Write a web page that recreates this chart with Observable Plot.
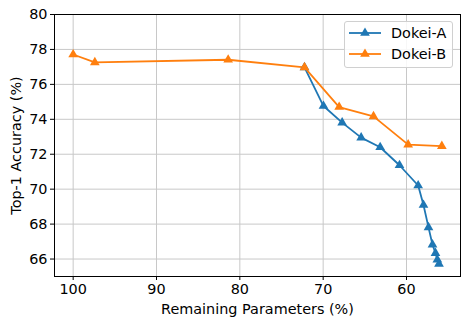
<!DOCTYPE html>
<html><head><meta charset="utf-8">
<script src="https://cdn.jsdelivr.net/npm/d3@7"></script>
<script src="https://cdn.jsdelivr.net/npm/@observablehq/plot@0.6"></script>
<style>
body{margin:0;background:#fff}
#wrap{position:relative;width:473px;height:327px;font-family:"DejaVu Sans",sans-serif}
#legend{position:absolute;left:344px;top:21px;width:109px;height:47px;border:1px solid #d0d0d0;border-radius:3px;background:rgba(255,255,255,0.85);box-sizing:border-box}
.row{position:absolute;left:0;height:20px;display:flex;align-items:center;font-size:14.4px;color:#000}
</style>
</head><body><div id="wrap"><div id="legend"></div></div>
<script>
const seriesNames = ["Dokei-A", "Dokei-B"];
const seriesColors = ["#1f77b4", "#ff7f0e"];
const paramsA = [72.24, 69.96, 67.72, 65.44, 63.16, 60.84, 58.6, 57.96, 57.36, 56.88, 56.52, 56.3, 56.1];
const accA    = [76.97, 74.76, 73.81, 72.95, 72.40, 71.37, 70.21, 69.09, 67.81, 66.82, 66.34, 65.96, 65.72];
const paramsB = [100, 97.4, 81.4, 72.24, 68.08, 63.96, 59.8, 55.76];
const accB    = [77.71, 77.26, 77.41, 76.97, 74.70, 74.17, 72.55, 72.46];
const xTicks = [100, 90, 80, 70, 60];
const yTicks = [66, 68, 70, 72, 74, 76, 78, 80];
const xLabel = "Remaining Parameters (%)";
const yLabel = "Top-1 Accuracy (%)";

const data = [
  ...paramsA.map((p, i) => ({series: seriesNames[0], x: p, y: accA[i]})),
  ...paramsB.map((p, i) => ({series: seriesNames[1], x: p, y: accB[i]}))
];

const chart = Plot.plot({
  width: 473, height: 327,
  marginLeft: 54, marginRight: 13, marginTop: 14, marginBottom: 51,
  style: {fontFamily: "DejaVu Sans", fontSize: "14.4px", color: "#000", background: "#fff"},
  x: {domain: [102.24, 53.52]},
  y: {domain: [65.0, 80]},
  color: {domain: seriesNames, range: seriesColors},
  marks: [
    Plot.gridX(xTicks, {stroke: "#c8c8c8", strokeOpacity: 1, strokeWidth: 1}),
    Plot.gridY(yTicks, {stroke: "#c8c8c8", strokeOpacity: 1, strokeWidth: 1}),
    Plot.line(data, {x: "x", y: "y", z: "series", stroke: "series", strokeWidth: 1.8}),
    Plot.dot(data, {x: "x", y: "y", fill: "series", symbol: "triangle", r: 3.6, stroke: "none"}),
    Plot.frame({stroke: "#000", strokeWidth: 1}),
    Plot.axisX(xTicks, {tickSize: 4, tickPadding: 3.5, fontSize: 14.4, label: xLabel, labelAnchor: "center", labelArrow: "none", labelOffset: 37}),
    Plot.axisY(yTicks, {tickSize: 4, tickPadding: 3, fontSize: 14.4, label: yLabel, labelAnchor: "center", labelArrow: "none", labelOffset: 44})
  ]
});
document.getElementById("wrap").prepend(chart);

const legend = d3.select("#legend");
seriesNames.forEach((name, i) => {
  const row = legend.append("div").attr("class", "row").style("top", (1 + i * 21) + "px");
  const sv = row.append("svg").attr("width", 46).attr("height", 20);
  sv.append("line").attr("x1", 4).attr("x2", 36).attr("y1", 10).attr("y2", 10)
    .attr("stroke", seriesColors[i]).attr("stroke-width", 1.8);
  sv.append("path").attr("transform", "translate(20,10)")
    .attr("d", d3.symbol(d3.symbolTriangle, 3.6 * 3.6 * Math.PI)()).attr("fill", seriesColors[i]);
  row.append("span").text(name);
});
</script>
</body></html>
